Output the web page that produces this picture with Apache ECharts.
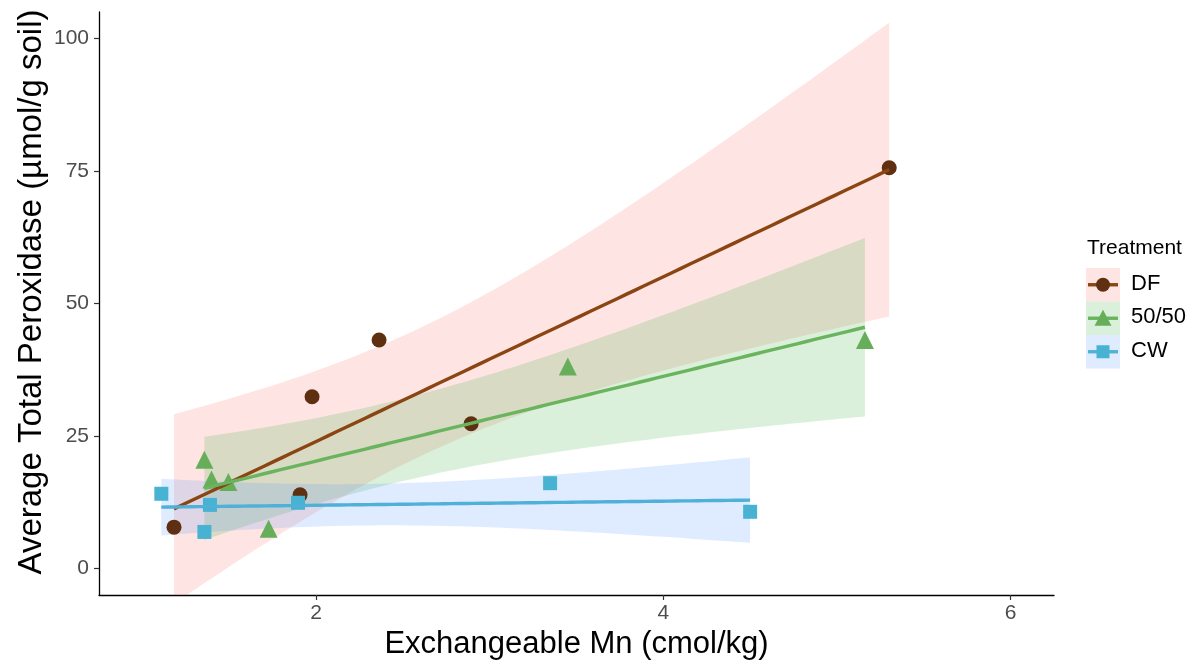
<!DOCTYPE html>
<html>
<head>
<meta charset="utf-8">
<script src="https://cdn.jsdelivr.net/npm/echarts@6/dist/echarts.min.js"></script>
<style>
html,body{margin:0;padding:0;background:#fff;}
#chart{width:1197px;height:666px;}
</style>
</head>
<body>
<div id="chart"></div>
<script>
// ---- data ----
const treatments = ['DF', '50/50', 'CW'];
const dfX  = [1.182, 1.977, 2.363, 1.908, 2.893, 5.301];
const dfY  = [7.8, 32.4, 43.1, 13.9, 27.3, 75.6];
const mixX = [1.357, 1.398, 1.495, 1.727, 3.450, 5.161];
const mixY = [20.5, 16.8, 16.3, 7.5, 38.1, 43.1];
const cwX  = [1.109, 1.389, 1.357, 1.896, 3.348, 4.500];
const cwY  = [14.1, 12.0, 6.9, 12.4, 16.1, 10.7];
const xTicks = [2, 4, 6];
const yTicks = [0, 25, 50, 75, 100];
const xTitle = 'Exchangeable Mn (cmol/kg)';
const yTitle = 'Average Total Peroxidase (µmol/g soil)';

// ---- styles ----
const FONT = "'Liberation Sans', Arial, Helvetica, sans-serif";
const pointColors = ['#5E3011', '#66AE5A', '#48B2D2'];
const lineColors  = ['#8B4513', '#6AB45E', '#4FB0D8'];
const bandColors  = ['rgba(248,118,109,0.2)', 'rgba(70,180,75,0.2)', 'rgba(97,156,255,0.2)'];
const symbols = ['circle', 'triangle', 'rect'];
const symSizes = [15, 18, 14];

// linear model fit + 95% confidence band (as geom_smooth(method = "lm"))
const T_CRIT = 2.776445; // t(0.975, df = 4)
function lmBand(xs, ys, n) {
  const N = xs.length;
  const mx = xs.reduce((a, b) => a + b, 0) / N;
  const my = ys.reduce((a, b) => a + b, 0) / N;
  let sxx = 0, sxy = 0;
  for (let i = 0; i < N; i++) { sxx += (xs[i] - mx) ** 2; sxy += (xs[i] - mx) * (ys[i] - my); }
  const b = sxy / sxx, a = my - b * mx;
  let sse = 0;
  for (let i = 0; i < N; i++) sse += (ys[i] - (a + b * xs[i])) ** 2;
  const s = Math.sqrt(sse / (N - 2));
  const lo = Math.min(...xs), hi = Math.max(...xs);
  const out = [];
  for (let k = 0; k < n; k++) {
    const x = lo + (hi - lo) * k / (n - 1);
    const f = a + b * x;
    const se = s * Math.sqrt(1 / N + (x - mx) ** 2 / sxx);
    out.push([x, f, f - T_CRIT * se, f + T_CRIT * se]);
  }
  return out;
}

const groups = [[dfX, dfY], [mixX, mixY], [cwX, cwY]];
const bands = groups.map(g => lmBand(g[0], g[1], 80));

const series = [];
// points first (underneath ribbons)
groups.forEach((g, i) => {
  series.push({
    name: treatments[i], type: 'scatter',
    data: g[0].map((x, j) => [x, g[1][j]]),
    symbol: symbols[i], symbolSize: symSizes[i],
    itemStyle: { color: pointColors[i], opacity: 1 },
    silent: true
  });
});
// ribbons + fitted lines per group
bands.forEach((band, i) => {
  series.push({
    name: treatments[i] + ' band', type: 'custom', clip: true,
    data: band.map(d => [d[0], d[2], d[3]]),
    renderItem: function (params, api) {
      if (params.dataIndex !== 0) return null;
      const pts = [];
      band.forEach(d => pts.push(api.coord([d[0], d[3]])));
      for (let k = band.length - 1; k >= 0; k--) pts.push(api.coord([band[k][0], band[k][2]]));
      return { type: 'polygon', shape: { points: pts }, style: { fill: bandColors[i], stroke: null } };
    },
    encode: { x: 0, y: [1, 2] },
    silent: true
  });
  series.push({
    name: treatments[i] + ' fit', type: 'line',
    data: band.map(d => [d[0], d[1]]),
    showSymbol: false, symbol: 'none',
    lineStyle: { color: lineColors[i], width: 3.4 },
    silent: true
  });
});

// legend drawn as graphic keys (ribbon background + line + symbol)
const legendX = 1086, legendTop = 268, keyW = 34, keyH = 33.5;
const graphics = [{
  type: 'text', left: 1087, top: 238,
  style: { text: 'Treatment', font: '21px ' + FONT, fill: '#000' }
}, {
  type: 'text', x: 32, y: 292, rotation: Math.PI / 2,
  style: { text: yTitle, font: '33px ' + FONT, fill: '#000', align: 'center', verticalAlign: 'middle' }
}];
treatments.forEach((t, i) => {
  const y0 = legendTop + i * keyH, cy = y0 + keyH / 2;
  graphics.push({ type: 'rect', shape: { x: legendX, y: y0, width: keyW, height: keyH }, style: { fill: bandColors[i] } });
  graphics.push({ type: 'line', shape: { x1: legendX + 2, y1: cy, x2: legendX + keyW - 2, y2: cy }, style: { stroke: lineColors[i], lineWidth: 3.4 } });
  const ss = symSizes[i] - 1;
  if (i === 0) graphics.push({ type: 'circle', shape: { cx: legendX + keyW / 2, cy: cy, r: ss / 2 }, style: { fill: pointColors[i] } });
  if (i === 1) graphics.push({ type: 'polygon', shape: { points: [[legendX + keyW / 2, cy - ss / 2], [legendX + keyW / 2 + ss / 2, cy + ss / 2 - 1], [legendX + keyW / 2 - ss / 2, cy + ss / 2 - 1]] }, style: { fill: pointColors[i] } });
  if (i === 2) graphics.push({ type: 'rect', shape: { x: legendX + keyW / 2 - ss / 2, y: cy - ss / 2, width: ss, height: ss }, style: { fill: pointColors[i] } });
  graphics.push({ type: 'text', left: 1131, top: cy - 12, style: { text: t, font: '22px ' + FONT, fill: '#000' } });
});

const chart = echarts.init(document.getElementById('chart'), null, { renderer: 'canvas' });
chart.setOption({
  animation: false,
  backgroundColor: '#fff',
  grid: { left: 99, right: 143, top: 12, bottom: 71, containLabel: false },
  xAxis: {
    type: 'value', min: 0.75, max: 6.25,
    name: xTitle, nameLocation: 'middle', nameGap: 27,
    nameTextStyle: { fontFamily: FONT, fontSize: 31, color: '#000' },
    axisLine: { show: true, onZero: false, lineStyle: { color: '#000', width: 1.3 } },
    axisTick: { show: true, customValues: xTicks, length: 5, lineStyle: { color: '#333', width: 1.2 } },
    axisLabel: { customValues: xTicks, margin: 8, fontFamily: FONT, fontSize: 21, color: '#4D4D4D' },
    splitLine: { show: false }
  },
  yAxis: {
    type: 'value', min: -5, max: 105,
    axisLine: { show: true, onZero: false, lineStyle: { color: '#000', width: 1.3 } },
    axisTick: { show: true, customValues: yTicks, length: 5, lineStyle: { color: '#333', width: 1.2 } },
    axisLabel: { customValues: yTicks, margin: 10, fontFamily: FONT, fontSize: 21, color: '#4D4D4D' },
    splitLine: { show: false }
  },
  graphic: graphics,
  series: series
});
</script>
</body>
</html>
